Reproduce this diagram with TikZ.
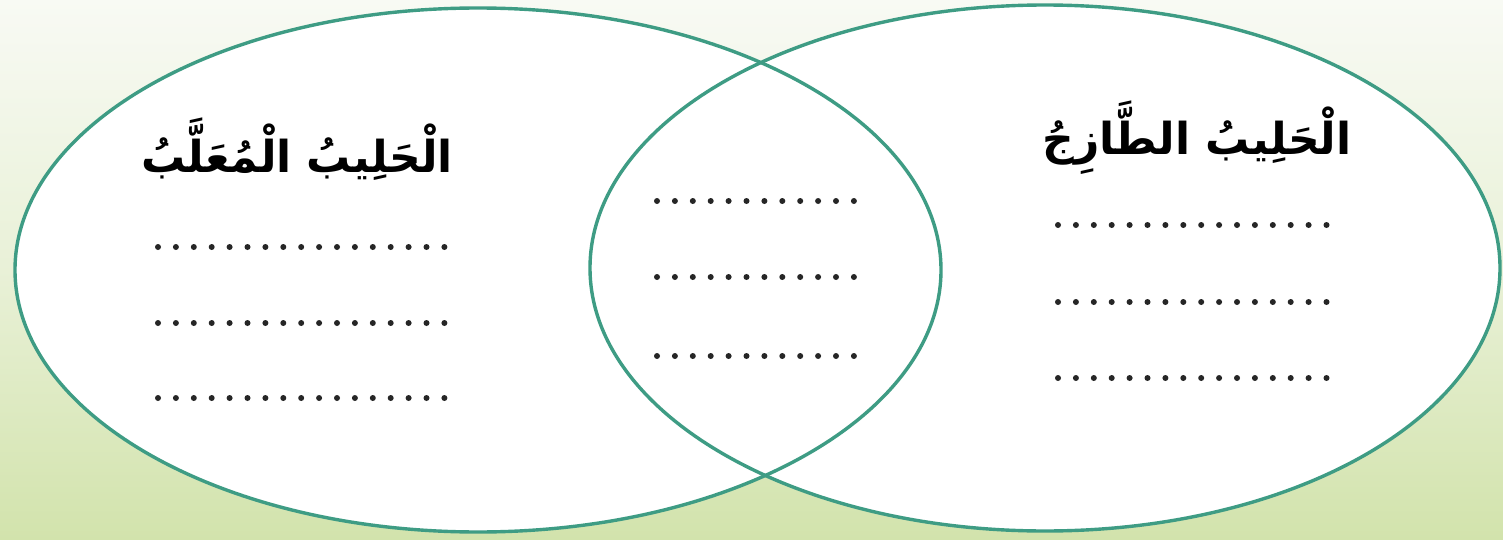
\documentclass[tikz,border=0pt]{standalone}
\usepackage{fontspec}
\newfontfamily\arabicfont[Script=Arabic]{DejaVu Sans}
\TeXXeTstate=1
\definecolor{ring}{HTML}{3E9C84}
\definecolor{bgtop}{HTML}{F8FAF4}
\definecolor{bgbot}{HTML}{D2E3AC}
\tikzset{
  venn/.style={draw=ring, line width=1.7pt},
  dotrow/.style={line width=3pt, line cap=round, dash pattern=on 0pt off 8.95pt, black!85},
  title/.style={font=\arabicfont\bfseries\fontsize{22}{26}\selectfont, inner sep=0pt, anchor=base}
}
\begin{document}
\begin{tikzpicture}[x=0.5pt,y=-0.5pt]
\useasboundingbox (0,0) rectangle (1503,540);
\shade[top color=bgtop, bottom color=bgbot, middle color=bgtop!60!bgbot] (0,0) rectangle (1503,540);
% fills
\fill[white] (478,270) ellipse [x radius=231.5pt, y radius=131pt];
\fill[white] (1045,268) ellipse [x radius=227.5pt, y radius=131.5pt];
% outlines
\draw[venn] (478,270) ellipse [x radius=231.5pt, y radius=131pt];
\draw[venn] (1045,268) ellipse [x radius=227.5pt, y radius=131.5pt];
% titles
\node[title] (ltitle) at (297,172) {\beginR الْحَلِيبُ الْمُعَلَّبُ\endR};
\node[title] (rtitle) at (1197,155) {\beginR الْحَلِيبُ الطَّازِجُ\endR};
% dotted rows
\draw[dotrow] (158,247) -- (444.5,247);
\draw[dotrow] (158,323) -- (444.5,323);
\draw[dotrow] (158,398) -- (444.5,398);
\draw[dotrow] (657,201) -- (855.5,201);
\draw[dotrow] (657,277) -- (855.5,277);
\draw[dotrow] (657,356) -- (855.5,356);
\draw[dotrow] (1058,225) -- (1343.5,225);
\draw[dotrow] (1058,302) -- (1343.5,302);
\draw[dotrow] (1058,378) -- (1343.5,378);
\end{tikzpicture}
\end{document}
